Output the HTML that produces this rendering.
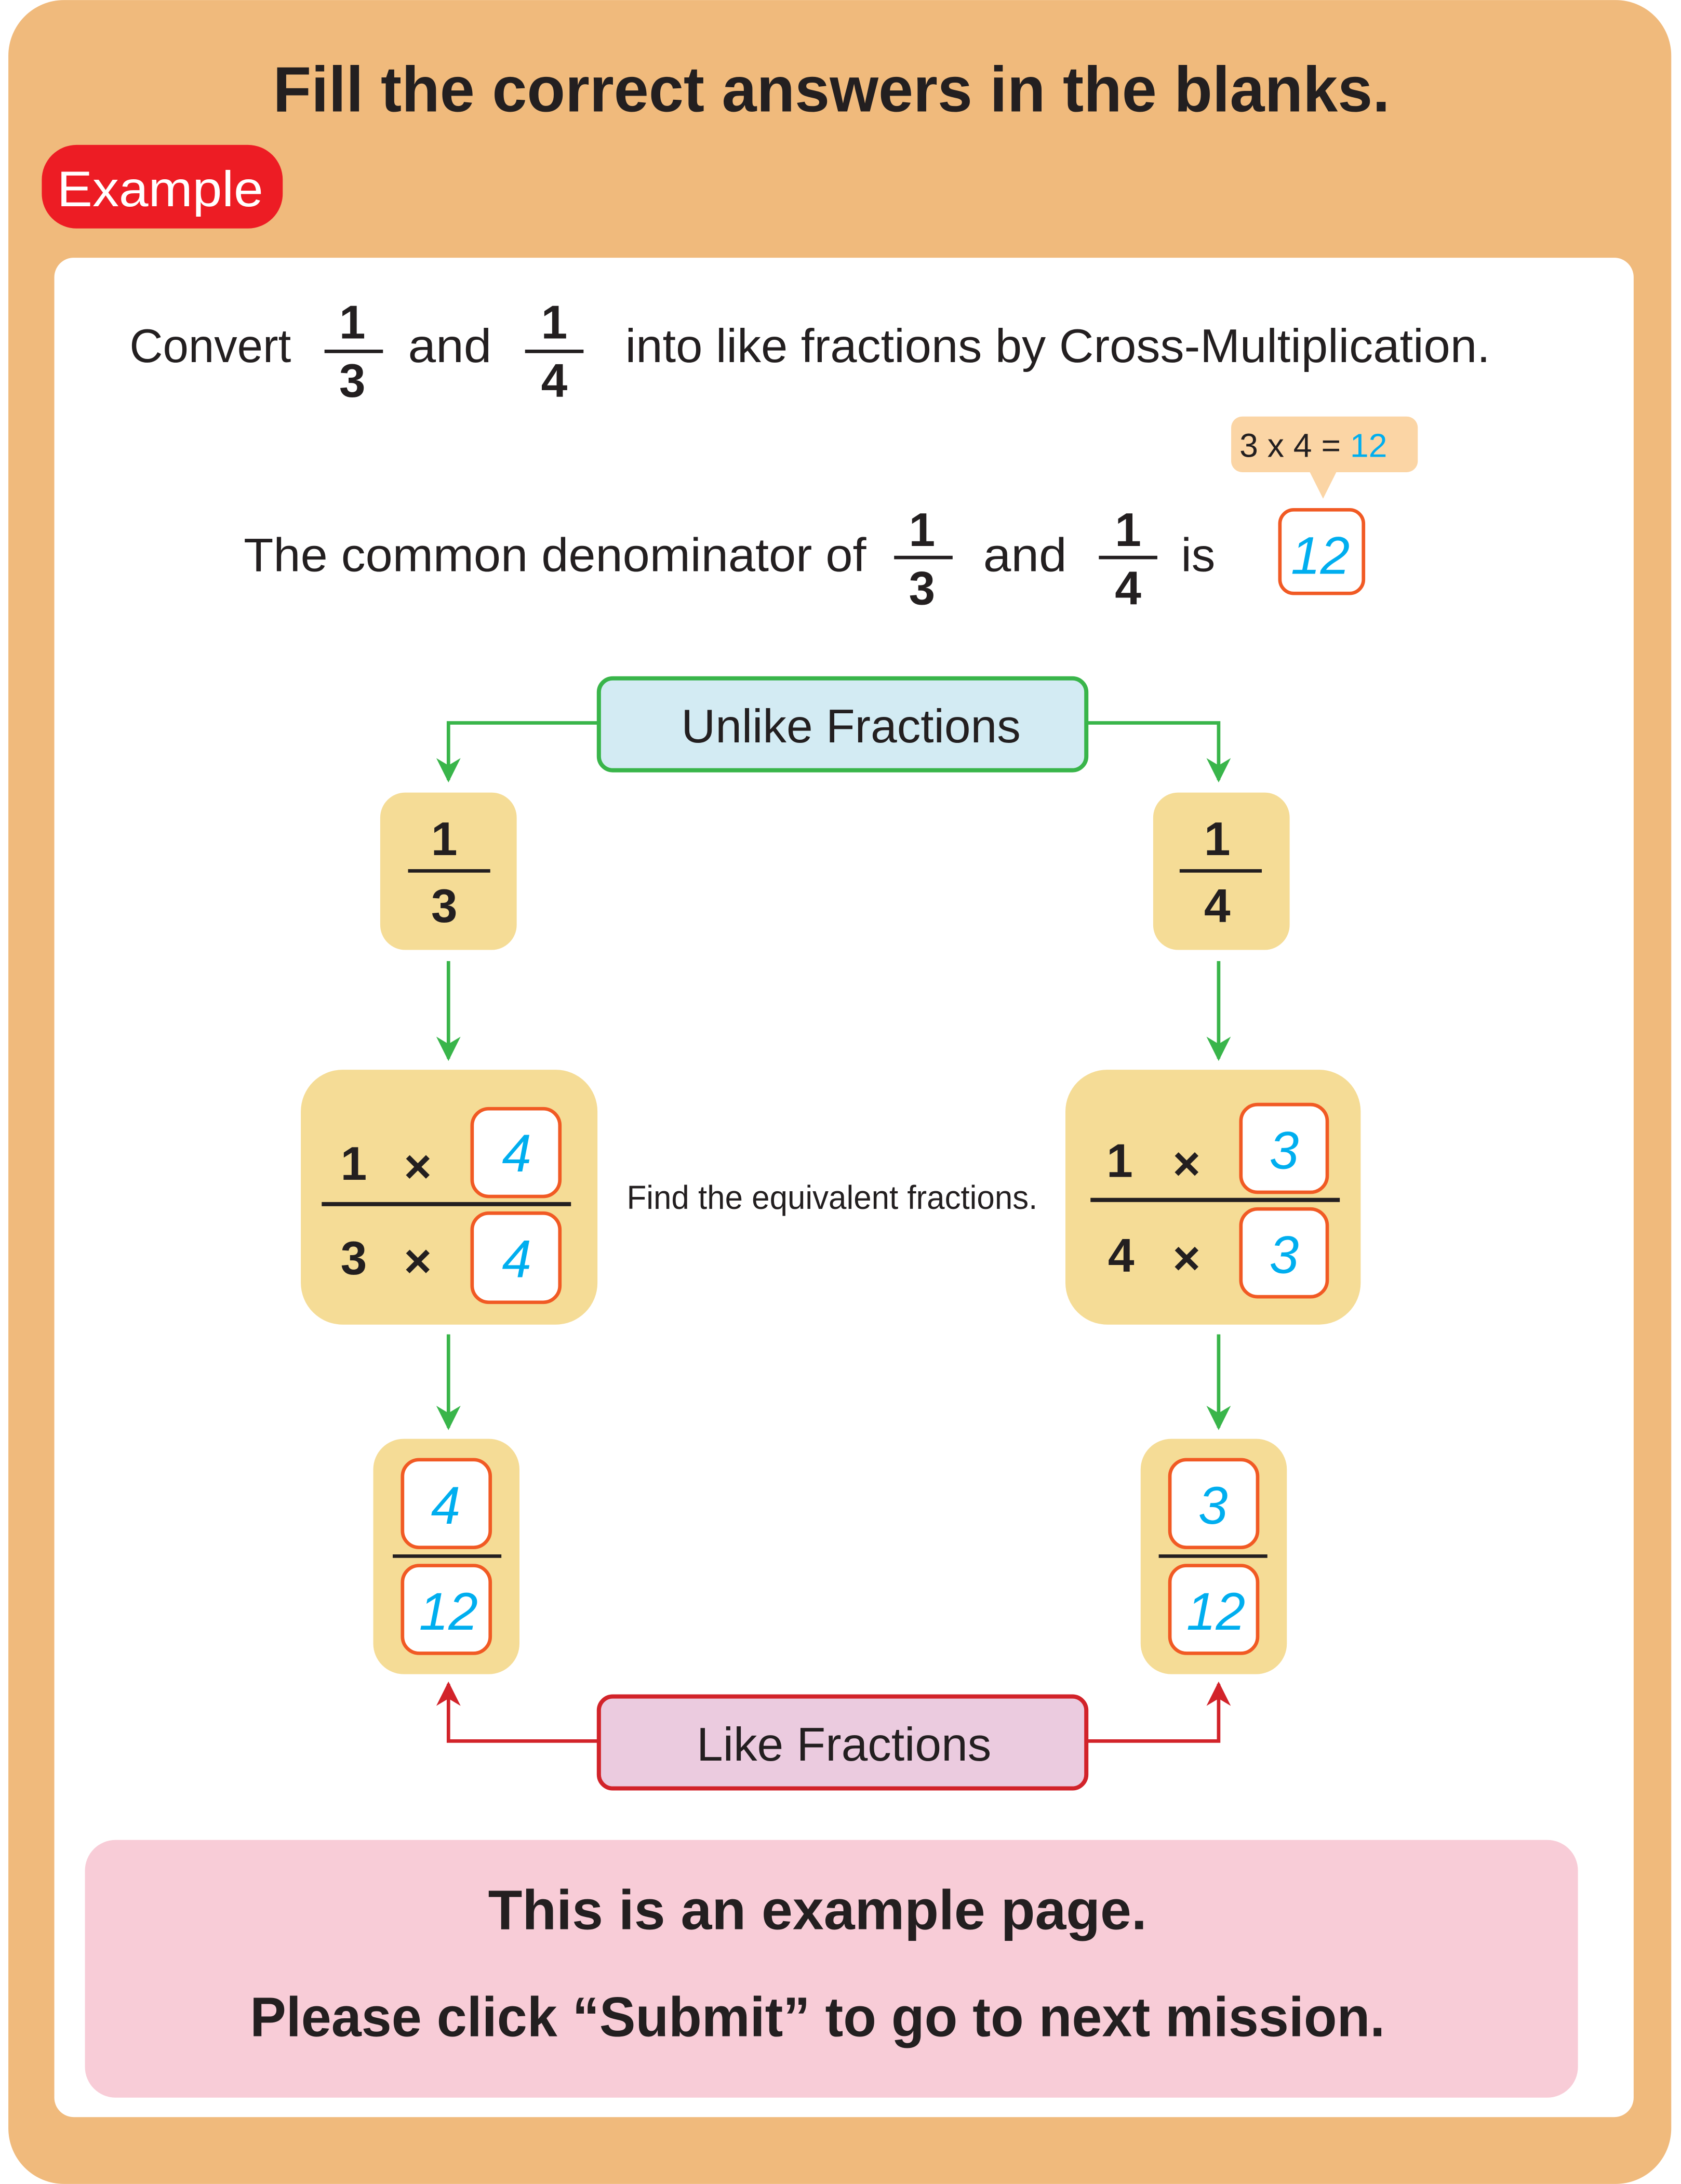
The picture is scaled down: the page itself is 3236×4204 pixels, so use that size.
<!DOCTYPE html>
<html><head><meta charset="utf-8"><style>
html,body{margin:0;padding:0;background:#fff;}
svg{display:block;}
text{font-family:"Liberation Sans",sans-serif;}
</style></head><body>
<svg width="3236" height="4204" viewBox="0 0 1207 1568" xmlns="http://www.w3.org/2000/svg">
<defs>
<marker id="ga" viewBox="0 0 10 10" refX="9" refY="5" markerWidth="7" markerHeight="7" orient="auto-start-reverse"><path d="M0,0 L10,5 L0,10 L3,5 z" fill="#39B54A"/></marker>
<marker id="ra" viewBox="0 0 10 10" refX="9" refY="5" markerWidth="7" markerHeight="7" orient="auto-start-reverse"><path d="M0,0 L10,5 L0,10 L3,5 z" fill="#D2232A"/></marker>
</defs>
<rect x="0" y="0" width="1207" height="1568" fill="#fff"/>
<rect x="6" y="0" width="1194" height="1568" rx="40" fill="#F0BA7C"/>
<text x="597" y="80" font-size="46" font-weight="bold" text-anchor="middle" fill="#231F20" textLength="802" lengthAdjust="spacingAndGlyphs">Fill the correct answers in the blanks.</text>
<rect x="30" y="104" width="173" height="60" rx="25" fill="#ED1C24"/>
<text x="115" y="148" font-size="36" fill="#fff" text-anchor="middle" textLength="148" lengthAdjust="spacingAndGlyphs">Example</text>
<rect x="39" y="185" width="1134" height="1335" rx="14" fill="#fff"/>

<g fill="#231F20" font-size="34">
<text x="93" y="260" textLength="116" lengthAdjust="spacingAndGlyphs">Convert</text>
<g font-weight="bold">
<text x="253" y="243" text-anchor="middle">1</text><text x="253" y="285" text-anchor="middle">3</text>
<text x="398" y="243" text-anchor="middle">1</text><text x="398" y="285" text-anchor="middle">4</text>
<text x="662" y="392" text-anchor="middle">1</text><text x="662" y="434" text-anchor="middle">3</text>
<text x="810" y="392" text-anchor="middle">1</text><text x="810" y="434" text-anchor="middle">4</text>
</g>
<rect x="233" y="251" width="42" height="2.5"/>
<text x="293" y="260" textLength="60" lengthAdjust="spacingAndGlyphs">and</text>
<rect x="377" y="251" width="42" height="2.5"/>
<text x="449" y="260" textLength="621" lengthAdjust="spacingAndGlyphs">into like fractions by Cross-Multiplication.</text>

<text x="175" y="410" textLength="447" lengthAdjust="spacingAndGlyphs">The common denominator of</text>
<rect x="642" y="399" width="42" height="2.5"/>
<text x="706" y="410" textLength="60" lengthAdjust="spacingAndGlyphs">and</text>
<rect x="789" y="399" width="42" height="2.5"/>
<text x="848" y="410">is</text>
</g>
<rect x="884" y="299" width="134" height="40" rx="8" fill="#FBD5A5"/>
<path d="M940,338 L950,358 L960,338 z" fill="#FBD5A5"/>
<text x="890" y="328" font-size="24" fill="#231F20">3 x 4 = <tspan fill="#00AEEF">12</tspan></text>
<rect x="919" y="366" width="60" height="60" rx="10" fill="#fff" stroke="#F15A24" stroke-width="2.5"/>
<text x="948" y="412" font-size="38" font-style="italic" fill="#00AEEF" text-anchor="middle">12</text>

<g fill="none" stroke="#39B54A" stroke-width="2.5">
<path d="M430,519 H322 V560" marker-end="url(#ga)"/>
<path d="M780,519 H875 V560" marker-end="url(#ga)"/>
<path d="M322,690 V760" marker-end="url(#ga)"/>
<path d="M875,690 V760" marker-end="url(#ga)"/>
<path d="M322,958 V1025" marker-end="url(#ga)"/>
<path d="M875,958 V1025" marker-end="url(#ga)"/>
</g>
<g fill="none" stroke="#D2232A" stroke-width="2.5">
<path d="M430,1250 H322 V1209" marker-end="url(#ra)"/>
<path d="M780,1250 H875 V1209" marker-end="url(#ra)"/>
</g>

<rect x="430" y="487" width="350" height="66" rx="10" fill="#D3EBF3" stroke="#39B54A" stroke-width="3"/>
<text x="611" y="533" font-size="34" text-anchor="middle" fill="#231F20">Unlike Fractions</text>
<rect x="430" y="1218" width="350" height="66" rx="10" fill="#EBCBDF" stroke="#D2232A" stroke-width="3"/>
<text x="606" y="1264" font-size="34" text-anchor="middle" fill="#231F20">Like Fractions</text>

<g fill="#F5DC96">
<rect x="273" y="569" width="98" height="113" rx="18"/>
<rect x="828" y="569" width="98" height="113" rx="18"/>
<rect x="216" y="768" width="213" height="183" rx="30"/>
<rect x="765" y="768" width="212" height="183" rx="30"/>
<rect x="268" y="1033" width="105" height="169" rx="22"/>
<rect x="819" y="1033" width="105" height="169" rx="22"/>
</g>
<g fill="#231F20" font-size="34" text-anchor="middle">
<g font-weight="bold">
<text x="319" y="614">1</text><text x="319" y="662">3</text>
<text x="874" y="614">1</text><text x="874" y="662">4</text>
<text x="254" y="847">1</text><text x="254" y="915">3</text>
<text x="804" y="845">1</text><text x="805" y="913">4</text>
</g>
<rect x="293" y="624" width="59" height="2.5"/>
<rect x="847" y="624" width="59" height="2.5"/>
<text x="300" y="849" font-weight="bold">×</text>
<text x="300" y="917" font-weight="bold">×</text>
<rect x="231" y="863" width="179" height="3"/>
<text x="852" y="847" font-weight="bold">×</text>
<text x="852" y="915" font-weight="bold">×</text>
<rect x="783" y="860" width="179" height="3"/>
<rect x="282" y="1116" width="78" height="2.5"/>
<rect x="832" y="1116" width="78" height="2.5"/>
</g>
<text x="450" y="868" font-size="24" fill="#231F20" textLength="295" lengthAdjust="spacingAndGlyphs">Find the equivalent fractions.</text>

<g fill="#fff" stroke="#F15A24" stroke-width="2.5">
<rect x="339" y="796" width="63" height="63" rx="12"/>
<rect x="339" y="871" width="63" height="64" rx="12"/>
<rect x="891" y="793" width="62" height="63" rx="12"/>
<rect x="891" y="868" width="62" height="63" rx="12"/>
<rect x="289" y="1048" width="63" height="63" rx="12"/>
<rect x="289" y="1124" width="63" height="63" rx="12"/>
<rect x="840" y="1048" width="63" height="63" rx="12"/>
<rect x="840" y="1124" width="63" height="63" rx="12"/>
</g>
<g fill="#00AEEF" font-size="38" font-style="italic" text-anchor="middle">
<text x="371" y="841">4</text><text x="371" y="917">4</text>
<text x="922" y="839">3</text><text x="922" y="914">3</text>
<text x="320" y="1094">4</text><text x="322" y="1170">12</text>
<text x="871" y="1094">3</text><text x="873" y="1170">12</text>
</g>

<rect x="61" y="1321" width="1072" height="185" rx="22" fill="#F8CCD7"/>
<text x="587" y="1385" font-size="40" font-weight="bold" text-anchor="middle" fill="#231F20" textLength="473" lengthAdjust="spacingAndGlyphs">This is an example page.</text>
<text x="587" y="1462" font-size="40" font-weight="bold" text-anchor="middle" fill="#231F20" textLength="815" lengthAdjust="spacingAndGlyphs">Please click “Submit” to go to next mission.</text>
</svg>
</body></html>
